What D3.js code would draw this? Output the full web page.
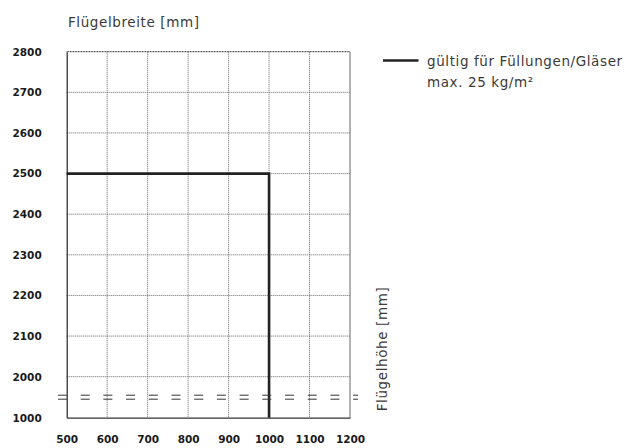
<!DOCTYPE html>
<html>
<head>
<meta charset="utf-8">
<script src="https://cdn.jsdelivr.net/npm/d3@7"></script>
<style>
  body { margin: 0; background: #fff; }
  svg { display: block; }
  .tick text { font-family: "DejaVu Sans", sans-serif; font-weight: bold; font-size: 10.5px; fill: #1a1a1a; }
  .lbl { font-family: "DejaVu Sans", sans-serif; font-size: 13.5px; fill: #3a3a3a; letter-spacing: 0.6px; }
</style>
</head>
<body>
<div id="graph"></div>
<script>
const svgw = 635
const svgh = 448

// data
const xTicks = [500, 600, 700, 800, 900, 1000, 1100, 1200]
const yTicks = [1000, 2000, 2100, 2200, 2300, 2400, 2500, 2600, 2700, 2800]
const limitWidth = [500, 1000, 1000]
const limitHeight = [2500, 2500, 1000]
const legendLines = ['gültig für Füllungen/Gläser', 'max. 25 kg/m²']

const svg = d3.select('#graph')
    .append('svg')
    .attr('width', svgw)
    .attr('height', svgh)

const xScale = d3.scaleLinear()
    .domain([500, 1200])
    .range([66.7, 350])

// broken axis: 1000 -> 2000 squeezed into one step
const yScale = d3.scaleLinear()
    .domain([1000, 2000, 2800])
    .range([417.7, 376.7, 51.7])

const x0 = xScale(500), x1 = xScale(1200)
const y0 = yScale(1000), y1 = yScale(2800)

// dotted grid
svg.append('g')
    .selectAll('line')
    .data(xTicks.slice(1, -1))
    .join('line')
    .attr('x1', d => xScale(d)).attr('x2', d => xScale(d))
    .attr('y1', y1).attr('y2', y0)
    .attr('stroke', '#666').attr('stroke-width', 1)
    .attr('stroke-dasharray', '1,1')

svg.append('g')
    .selectAll('line')
    .data(yTicks.slice(1, -1))
    .join('line')
    .attr('x1', x0).attr('x2', x1)
    .attr('y1', d => yScale(d)).attr('y2', d => yScale(d))
    .attr('stroke', '#666').attr('stroke-width', 1)
    .attr('stroke-dasharray', '1,1')

// top border (dotted, darker)
svg.append('line')
    .attr('x1', x0).attr('x2', x1).attr('y1', y1).attr('y2', y1)
    .attr('stroke', '#444').attr('stroke-width', 1.3)
    .attr('stroke-dasharray', '1,0.6')

// right border
svg.append('line')
    .attr('x1', x1).attr('x2', x1).attr('y1', y1).attr('y2', y0)
    .attr('stroke', '#666').attr('stroke-width', 1)

// axes
const xAxis = d3.axisBottom(xScale).tickValues(xTicks).tickFormat(d3.format('d')).tickSize(0).tickPadding(18)
const yAxis = d3.axisLeft(yScale).tickValues(yTicks).tickFormat(d3.format('d')).tickSize(0).tickPadding(25)

svg.append('g')
    .attr('transform', `translate(0,${y0})`)
    .call(xAxis)
    .call(g => g.select('.domain').attr('stroke', '#333').attr('stroke-width', 1.2))

svg.append('g')
    .attr('transform', `translate(${x0},0)`)
    .call(yAxis)
    .call(g => g.select('.domain').attr('stroke', '#222').attr('stroke-width', 1.2))

// limit line
svg.append('path')
    .datum(limitWidth.map((w, i) => [w, limitHeight[i]]))
    .attr('d', d3.line().x(d => xScale(d[0])).y(d => yScale(d[1])))
    .attr('fill', 'none')
    .attr('stroke', '#222')
    .attr('stroke-width', 2.6)

// axis break marks
const yb = (yScale(1000) + yScale(2000)) / 2
;[-2, 2].forEach(off => {
    svg.append('line')
        .attr('x1', 58).attr('x2', 358)
        .attr('y1', yb + off).attr('y2', yb + off)
        .attr('stroke', '#333').attr('stroke-width', 1)
        .attr('stroke-dasharray', '9,13.7')
})

// titles
svg.append('text')
    .attr('class', 'lbl')
    .attr('x', 68).attr('y', 26.5)
    .text('Flügelbreite [mm]')

svg.append('text')
    .attr('class', 'lbl')
    .attr('transform', `translate(387,349) rotate(-90)`)
    .attr('text-anchor', 'middle')
    .text('Flügelhöhe [mm]')

// legend
svg.append('line')
    .attr('x1', 383).attr('x2', 418.5)
    .attr('y1', 60.5).attr('y2', 60.5)
    .attr('stroke', '#222').attr('stroke-width', 2.4)

svg.append('g')
    .selectAll('text')
    .data(legendLines)
    .join('text')
    .attr('class', 'lbl')
    .attr('x', 427)
    .attr('y', (d, i) => 65.5 + i * 21)
    .text(d => d)
</script>
</body>
</html>
